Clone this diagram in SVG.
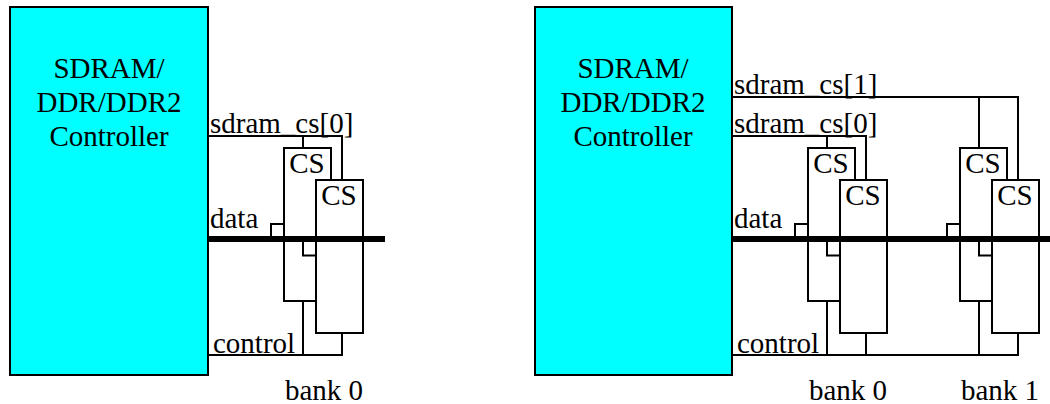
<svg xmlns="http://www.w3.org/2000/svg" width="1050" height="404" viewBox="0 0 1050 404">
<style>
text{font-family:"Liberation Serif","Times New Roman",serif;font-size:29px;fill:#000}
.m{text-anchor:middle}
.ctl{fill:#0ff;stroke:#000;stroke-width:2}
.chip{fill:#fff;stroke:#000;stroke-width:2}
.w{fill:none;stroke:#000;stroke-width:2}
.bus{fill:none;stroke:#000;stroke-width:6}
</style>
<rect width="1050" height="404" fill="#fff"/>
<g id="controller-left"><rect class="ctl" x="10" y="7" width="198" height="368"/><text class="m" x="109" y="78">SDRAM/</text><text class="m" x="109" y="112">DDR/DDR2</text><text class="m" x="109" y="146">Controller</text></g>
<g id="controller-right"><rect class="ctl" x="535" y="7" width="197" height="368"/><text class="m" x="633" y="78">SDRAM/</text><text class="m" x="633" y="112">DDR/DDR2</text><text class="m" x="633" y="146">Controller</text></g>
<g id="chip-l0a"><rect class="chip" x="284" y="148" width="47" height="153"/><text class="m" x="307" y="173">CS</text></g>
<g id="chip-l0b"><rect class="chip" x="316" y="180" width="47" height="153"/><text class="m" x="339" y="205">CS</text></g>
<g id="chip-r0a"><rect class="chip" x="808" y="148" width="47" height="153"/><text class="m" x="831" y="173">CS</text></g>
<g id="chip-r0b"><rect class="chip" x="840" y="180" width="47" height="153"/><text class="m" x="863" y="205">CS</text></g>
<g id="chip-r1a"><rect class="chip" x="960" y="148" width="47" height="153"/><text class="m" x="983" y="173">CS</text></g>
<g id="chip-r1b"><rect class="chip" x="992" y="180" width="47" height="153"/><text class="m" x="1015" y="205">CS</text></g>
<g id="connectors">
<path class="w" d="M208 136H342V180M303 136V148M271 239V224H284M303 239V255.500H316M208 355H342V333M303 301V355"/>
<path class="bus" d="M208 239H385"/>
<path class="w" d="M732 97H1018V180M979 97V148M732 136H866V180M827 136V148"/>
<path class="w" d="M795 239V224H808M827 239V255.500H840M947 239V224H960M979 239V255.500H992"/>
<path class="w" d="M732 355H1018V333M827 301V355M866 333V355M979 301V355"/>
<path class="bus" d="M732 239H1050"/>
</g>
<g id="labels">
<text x="210" y="133">sdram_cs[0]</text><text x="210" y="228">data</text><text x="213" y="353">control</text><text x="285" y="400">bank 0</text>
<text x="734" y="94">sdram_cs[1]</text><text x="734" y="133">sdram_cs[0]</text><text x="734" y="228">data</text><text x="737" y="353">control</text><text x="809" y="400">bank 0</text><text x="961" y="400">bank 1</text>
</g>
</svg>
